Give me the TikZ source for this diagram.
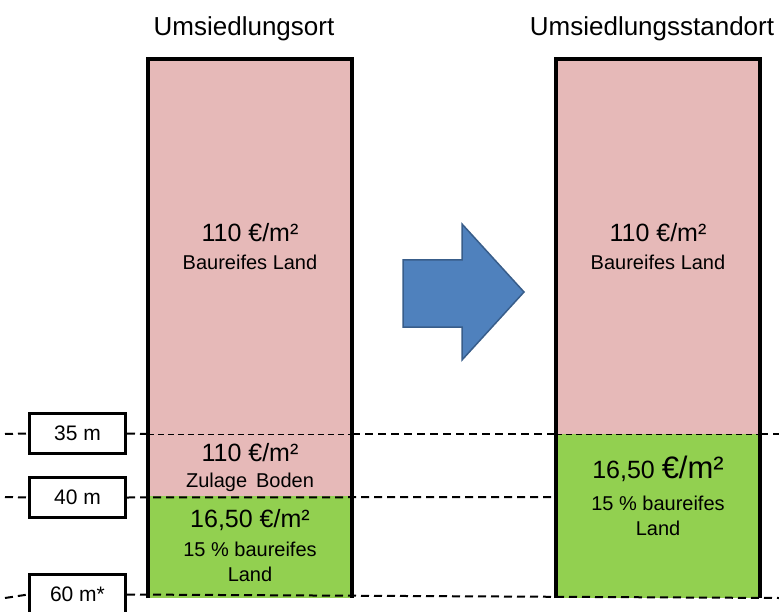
\documentclass[tikz,border=0pt]{standalone}
\usepackage{fontspec}
\setmainfont{Liberation Sans}
\definecolor{landpink}{RGB}{230,185,184}
\definecolor{landgreen}{RGB}{146,208,80}
\definecolor{arrowblue}{RGB}{79,129,189}
\definecolor{arrowedge}{RGB}{56,93,138}
\tikzset{
  sep/.style={dash pattern=on 8pt off 5pt, line width=2pt},
  septhin/.style={dash pattern=on 6pt off 4pt, line width=1pt},
  wall/.style={line width=4pt},
  lbl/.style={draw, line width=3pt, fill=white, minimum width=96pt, minimum height=40pt, inner sep=0pt, font=\fontsize{21}{24}\selectfont},
  val/.style={inner sep=0pt, font=\fontsize{25}{28}\selectfont},
  note/.style={inner sep=0pt, font=\fontsize{20}{22}\selectfont},
  head/.style={inner sep=0pt, font=\fontsize{26}{30}\selectfont},
}
\begin{document}
\begin{tikzpicture}[x=1pt,y=1pt,yscale=-1]
\clip (0,0) rectangle (779,612);

% Corners
\coordinate (ltl) at (148,59);  \coordinate (lbr) at (352,598);
\coordinate (rtl) at (556,59);  \coordinate (rbr) at (760,598);
\coordinate (lmid) at (148,496); \coordinate (rmid) at (556,434);

% Fills
\fill [landpink] (ltl) rectangle (352,496);
\fill [landgreen] (lmid) rectangle (lbr);
\fill [landpink] (rtl) rectangle (760,434);
\fill [landgreen] (rmid) rectangle (rbr);

% Label boxes
\node [lbl] (l35) at (77.5,433.5) {35 m};
\node [lbl] (l40) at (77.5,497.5) {40 m};
\node [lbl] (l60) at (77.5,594.5) {60 m*};

% Dashed levels
\coordinate (w35) at (5,434);  \coordinate (e35) at (779,434);
\coordinate (w40) at (5,497);
\coordinate (w60) at (5,598);  \coordinate (e60) at (779,598);
\draw [sep] (w35) -- (l35.west);
\draw [sep] (l35.east) -- (148,434);
\draw [septhin] (148,434) -- (352,434);
\draw [sep] (352,434) -- (556,434);
\draw [septhin] (556,434) -- (760,434);
\draw [sep] (760,434) -- (e35);
\draw [sep] (w40) -- (l40.west);
\draw [sep] (l40.east) -- (556,497);
\draw [sep] (w60) -- (l60.west);
\draw [sep] (l60.east) -- (e60);

% Walls
\draw [wall] (148,598) -- (ltl) -- (352,59) -- (352,598);
\draw [wall] (556,598) -- (rtl) -- (760,59) -- (760,598);

% Arrow
\draw [fill=arrowblue, draw=arrowedge, line width=1.5pt]
  (403,260) -- (462,260) -- (462,224) -- (524,292) -- (462,360) -- (462,327) -- (403,327) -- cycle;

% Text Node
\node [head] (hl) at (244,29) {Umsiedlungsort};
\node [head] (hr) at (652,29) {Umsiedlungsstandort};

% Text Node
\node [val] (lv1) at (250,233) {110 €/m²};
\node [note] (ln1) at (250,262) {Baureifes Land};
\node [val] (rv1) at (658,233) {110 €/m²};
\node [note] (rn1) at (658,262) {Baureifes Land};

% Text Node
\node [val] (lv2) at (250,453) {110 €/m²};
\node [note] (ln2) at (250,482) {Zulage\, Boden};
\node [val] (lv3) at (250,520) {16,50 €/m²};
\node [note] (ln3) at (250,549) {15 \% baureifes};
\node [note] (ln4) at (250,574) {Land};

% Text Node
\node [val] (rv2) at (658,469) {16,50 {\fontsize{31}{34}\selectfont €/m²}};
\node [note] (rn2) at (658,503) {15 \% baureifes};
\node [note] (rn3) at (658,528) {Land};
\end{tikzpicture}
\end{document}
